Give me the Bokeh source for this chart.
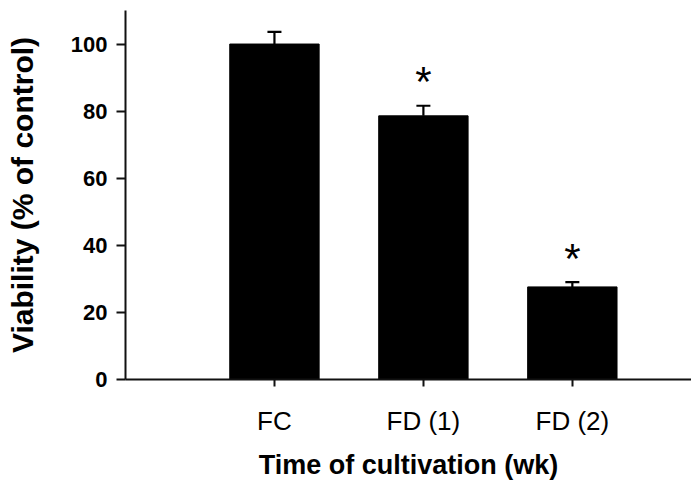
from bokeh.plotting import figure
from bokeh.models import ColumnDataSource, Whisker, TeeHead, FixedTicker, Range1d
from bokeh.core.properties import value
from bokeh.embed import file_html
from bokeh.resources import INLINE

categories = ["FC", "FD (1)", "FD (2)"]
viability = [100.0, 78.6, 27.6]
errors = [3.6, 3.0, 1.4]
significant = [False, True, True]
y_ticks = [0, 20, 40, 60, 80, 100]

pos = [i + 1 for i in range(len(categories))]
upper = [v + e for v, e in zip(viability, errors)]

src = ColumnDataSource(dict(x=pos, top=viability, upper=upper, base=viability))

star_off = 7.1
stars = ColumnDataSource(dict(
    x=[p_ for p_, s in zip(pos, significant) if s],
    y=[u + star_off for u, s in zip(upper, significant) if s],
    t=["*" for s in significant if s],
))

FONT = "Liberation Sans"

p = figure(width=691, height=484, output_backend="svg", toolbar_location=None,
           x_range=Range1d(0, 3.8), y_range=Range1d(0, 110),
           min_border_left=125, min_border_right=0, min_border_top=10, min_border_bottom=105)
p.outline_line_color = None
p.xgrid.visible = False
p.ygrid.visible = False

p.vbar(x="x", top="top", width=0.6, bottom=0, source=src,
       fill_color="black", line_color="black")

w = Whisker(source=src, base="x", upper="upper", lower="base",
            line_color="black", line_width=2.2,
            upper_head=TeeHead(size=14, line_color="black", line_width=2.2),
            lower_head=None)
p.add_layout(w)

p.text(x="x", y="y", text="t", source=stars, text_align="center",
       text_baseline="middle", text_font=value(FONT), text_font_size="42px",
       text_color="black")

# x axis
p.xaxis.ticker = FixedTicker(ticks=pos)
p.xaxis.major_label_overrides = {pp: c for pp, c in zip(pos, categories)}
p.xaxis.minor_tick_line_color = None
p.xaxis.major_tick_in = 0
p.xaxis.major_tick_out = 7
p.xaxis.major_tick_line_width = 2
p.xaxis.axis_line_width = 2
p.xaxis.axis_line_color = "#111111"
p.xaxis.major_tick_line_color = "#111111"
p.xaxis.major_label_text_font = FONT
p.xaxis.major_label_text_font_size = "26px"
p.xaxis.major_label_text_color = "black"
p.xaxis.major_label_standoff = 19
p.xaxis.axis_label = "Time of cultivation (wk)"
p.xaxis.axis_label_text_font = FONT
p.xaxis.axis_label_text_font_size = "27px"
p.xaxis.axis_label_text_font_style = "bold"
p.xaxis.axis_label_text_color = "black"
p.xaxis.axis_label_standoff = 11

# y axis
p.yaxis.ticker = FixedTicker(ticks=y_ticks)
p.yaxis.minor_tick_line_color = None
p.yaxis.major_tick_in = 0
p.yaxis.major_tick_out = 9
p.yaxis.major_tick_line_width = 2
p.yaxis.axis_line_width = 2
p.yaxis.axis_line_color = "#111111"
p.yaxis.major_tick_line_color = "#111111"
p.yaxis.major_label_text_font = FONT
p.yaxis.major_label_text_font_size = "22px"
p.yaxis.major_label_text_font_style = "bold"
p.yaxis.major_label_text_color = "black"
p.yaxis.major_label_standoff = 9
p.yaxis.axis_label = "Viability (% of control)"
p.yaxis.axis_label_text_font = FONT
p.yaxis.axis_label_text_font_size = "30px"
p.yaxis.axis_label_text_font_style = "bold"
p.yaxis.axis_label_text_color = "black"
p.yaxis.axis_label_standoff = 29

open("out.html", "w").write(file_html(p, INLINE))
